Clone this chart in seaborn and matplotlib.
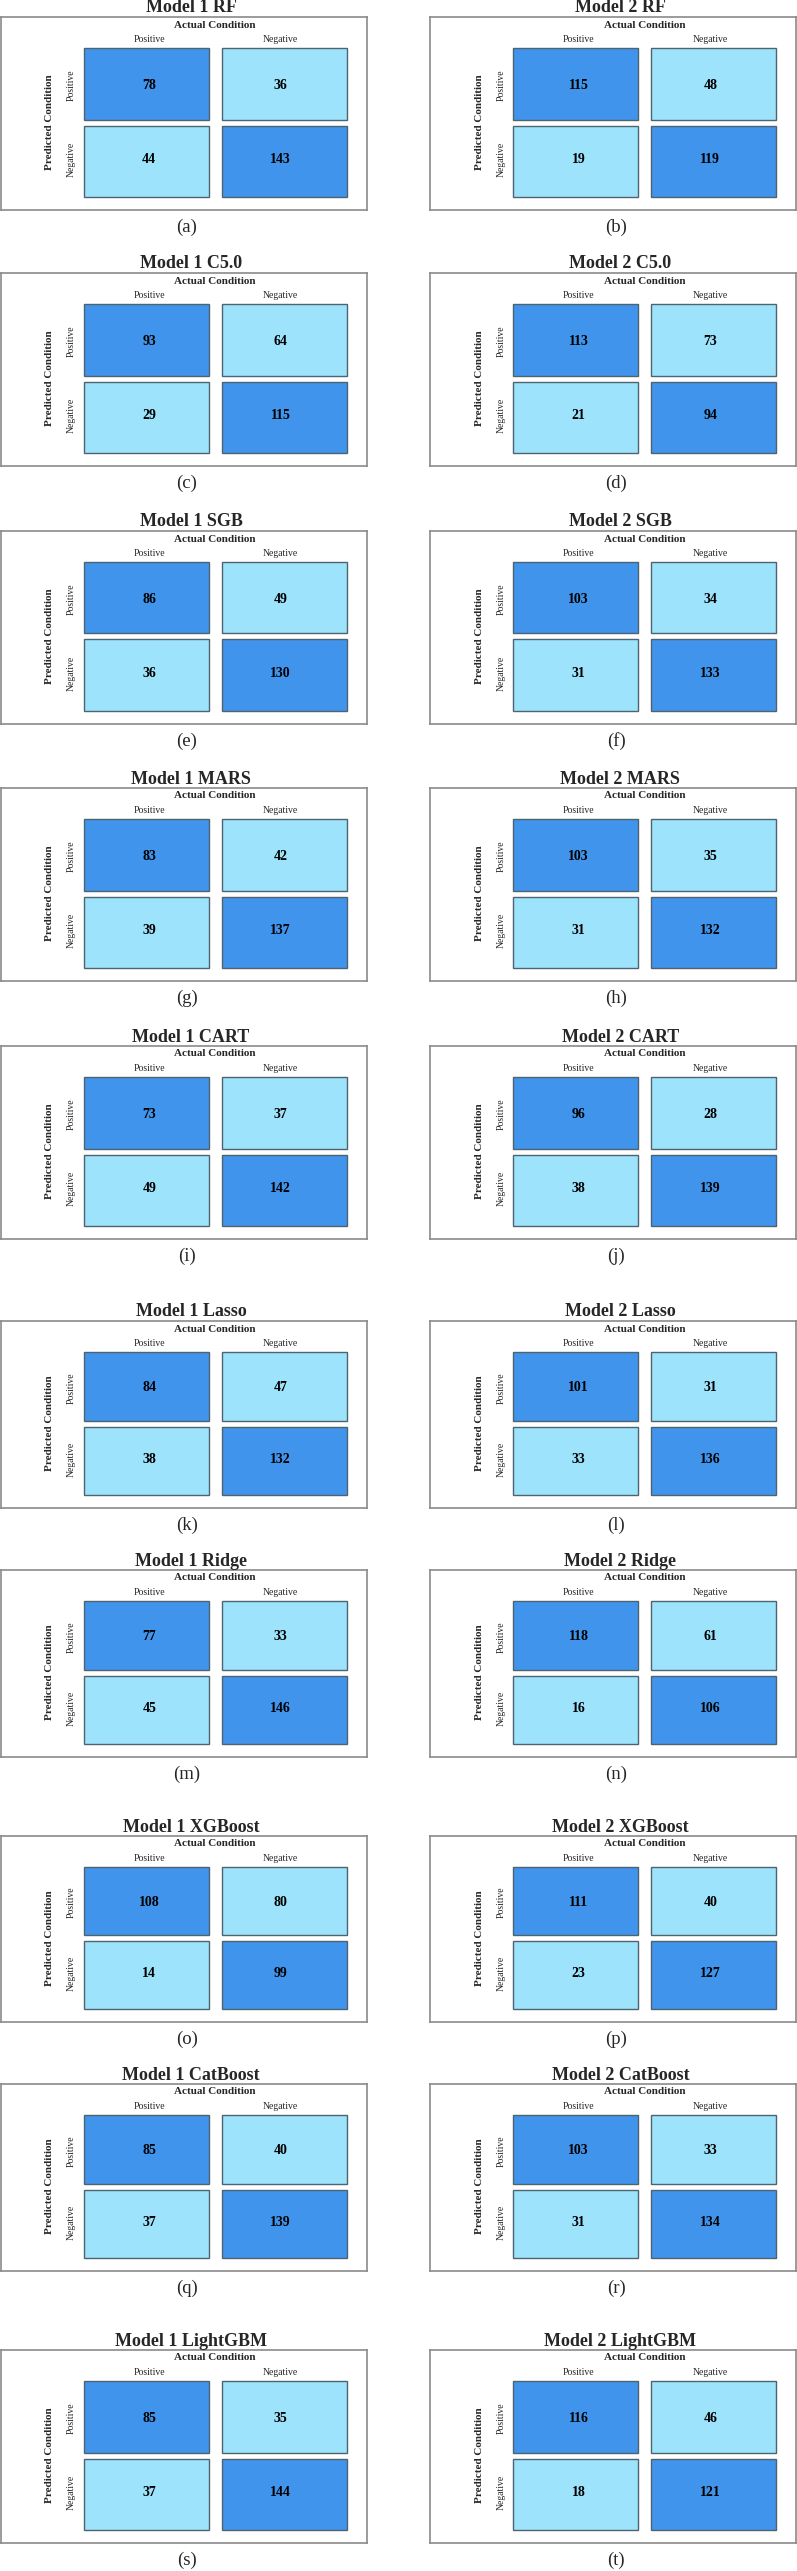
import numpy as np
import pandas as pd
import seaborn as sns
import matplotlib.pyplot as plt
from matplotlib.colors import ListedColormap
from matplotlib.patches import Rectangle

# confusion matrix counts (rows: predicted, cols: actual)
models = ['RF', 'C5.0', 'SGB', 'MARS', 'CART', 'Lasso', 'Ridge', 'XGBoost', 'CatBoost', 'LightGBM']
classes = ['Positive', 'Negative']

m1_pp = [78, 93, 86, 83, 73, 84, 77, 108, 85, 85]
m1_pn = [36, 64, 49, 42, 37, 47, 33, 80, 40, 35]
m1_np = [44, 29, 36, 39, 49, 38, 45, 14, 37, 37]
m1_nn = [143, 115, 130, 137, 142, 132, 146, 99, 139, 144]

m2_pp = [115, 113, 103, 103, 96, 101, 118, 111, 103, 116]
m2_pn = [48, 73, 34, 35, 28, 31, 61, 40, 33, 46]
m2_np = [19, 21, 31, 31, 38, 33, 16, 23, 31, 18]
m2_nn = [119, 94, 133, 132, 139, 136, 106, 127, 134, 121]

letters = 'abcdefghijklmnopqrst'

# layout in pixels
W, H = 797, 2571
row_top = [17, 273, 531, 788, 1046, 1321, 1570, 1836, 2084, 2350]
box_h = [193, 193, 193, 193, 193, 187, 187, 186, 187, 193]
col_left = [0.5, 430]
col_w = [366.5, 366]

dark = '#4194EC'
light = '#9DE3FC'
edge = '#4d6470'

sns.set_theme(style='white')
plt.rcParams['font.family'] = ['Liberation Serif', 'DejaVu Serif']

fig = plt.figure(figsize=(W / 100, H / 100), dpi=100)


def px_axes(x, y, w, h):
    return fig.add_axes([x / W, 1 - (y + h) / H, w / W, h / H])


def draw_panel(r, c, counts, name):
    x0, bw = col_left[c], col_w[c]
    top, bh = row_top[r], box_h[r]

    box = px_axes(x0, top, bw, bh)
    box.set_xticks([])
    box.set_yticks([])
    for s in box.spines.values():
        s.set_color('#8a8a8a')
        s.set_linewidth(1.2)

    hw, hh = 263, bh - 44
    hax = px_axes(x0 + 83, top + 31, hw, hh)
    df = pd.DataFrame(counts, index=classes, columns=classes)
    sns.heatmap(np.eye(2), annot=df.values, fmt='d', vmin=0, vmax=1,
                cmap=ListedColormap([light, dark]), cbar=False,
                xticklabels=classes, yticklabels=classes, ax=hax,
                annot_kws=dict(fontsize=10, fontweight='bold', color='black'))
    hax.xaxis.tick_top()
    hax.tick_params(axis='x', length=0, pad=3, labelsize=7)
    hax.tick_params(axis='y', length=0, pad=5.5, labelsize=7)
    plt.setp(hax.get_yticklabels(), rotation=90, va='center')
    hax.set_xlabel('')
    hax.set_ylabel('')

    # white gaps between the cells
    hax.axvline(1, color='white', lw=13 * 0.72, zorder=2)
    hax.axhline(1, color='white', lw=6 * 0.72, zorder=2)
    gx = 6.5 / (hw / 2)
    gy = 3.0 / (hh / 2)
    for i in range(2):
        for j in range(2):
            xl = 0 if j == 0 else 1 + gx
            yt = 0 if i == 0 else 1 + gy
            hax.add_patch(Rectangle((xl, yt), 1 - gx, 1 - gy, fill=False,
                                    edgecolor=edge, lw=1, zorder=2.5, clip_on=False))

    fig.text((x0 + 83 + hw / 2) / W, 1 - (top + 8) / H, 'Actual Condition',
             ha='center', va='center', fontsize=8, fontweight='bold')
    fig.text((x0 + 49) / W, 1 - (top + 31 + hh / 2) / H, 'Predicted Condition',
             ha='center', va='center', rotation=90, fontsize=8, fontweight='bold')
    fig.text((x0 + 0.52 * bw) / W, 1 - (top - 9) / H, f'Model {c + 1} {name}',
             ha='center', va='center', fontsize=13, fontweight='bold')
    fig.text((x0 + bw / 2 + 3) / W, 1 - (top + bh + 17) / H, f'({letters[2 * r + c]})',
             ha='center', va='center', fontsize=13.5)


for r, name in enumerate(models):
    draw_panel(r, 0, [[m1_pp[r], m1_pn[r]], [m1_np[r], m1_nn[r]]], name)
    draw_panel(r, 1, [[m2_pp[r], m2_pn[r]], [m2_np[r], m2_nn[r]]], name)

fig.savefig('out.png', dpi=100)
